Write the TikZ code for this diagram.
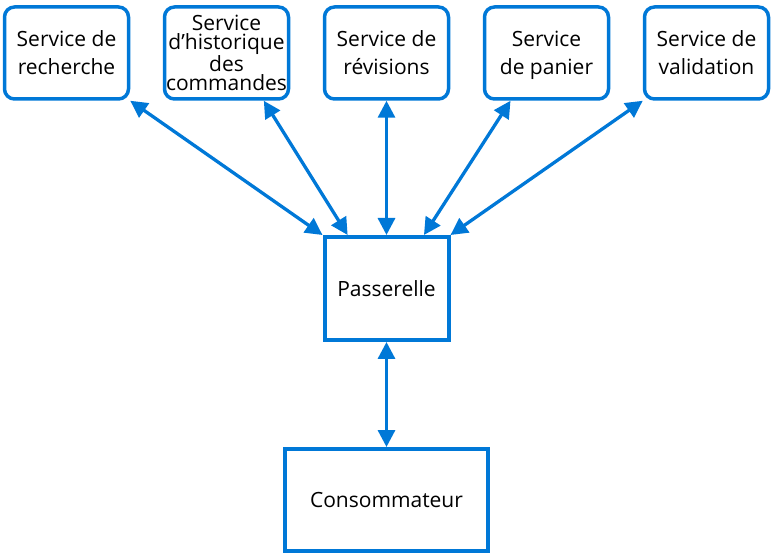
\documentclass[tikz,border=0pt]{standalone}
\usepackage{fontspec}
\setmainfont{Open Sans}
\usetikzlibrary{arrows.meta}
\definecolor{msblue}{HTML}{0078D7}

\begin{document}
\begin{tikzpicture}[<->,>={Triangle[length=17pt,width=17pt]},line width=3.3pt,
      draw=msblue,x=1pt,y=-1pt,node distance=160pt,
      service/.style={draw=msblue,line width=3.5pt,rounded corners=10pt,
        minimum width=124pt,minimum height=92pt,align=center,inner sep=1pt,
        font=\fontsize{21}{28}\selectfont},
      hub/.style={draw=msblue,line width=4pt,minimum width=124pt,
        minimum height=103pt,font=\fontsize{21}{24}\selectfont}]
    \useasboundingbox (0,0) rectangle (772,556);

    \node[service] (rech) at (66.5,53) {Service de\\recherche};
    \node[service,font=\fontsize{21}{19}\selectfont] (hist) [right of=rech] {Service\\d’historique\\des\\commandes};
    \node[service] (rev) [right of=hist] {Service de\\révisions};
    \node[service] (pan) [right of=rev] {Service\\de \smash{p}anier};
    \node[service] (valid) [right of=pan] {Service de\\validation};

    \node[hub] (pass) [below of=rev,node distance=235.5pt] {Passerelle};
    \node[hub,minimum width=203pt,minimum height=102pt] (cons) [below of=pass,node distance=211.5pt] {Consommateur};

    \draw[msblue] (rech.south east) -- (pass.north west);
    \draw[msblue] (hist.-52) -- (pass.126);
    \draw[msblue] (rev.south) -- (pass.north);
    \draw[msblue] (pan.-127) -- (pass.55);
    \draw[msblue] (valid.south west) -- (pass.north east);
    \draw[msblue] (pass.south) -- (cons.north);
  \end{tikzpicture}
\end{document}
